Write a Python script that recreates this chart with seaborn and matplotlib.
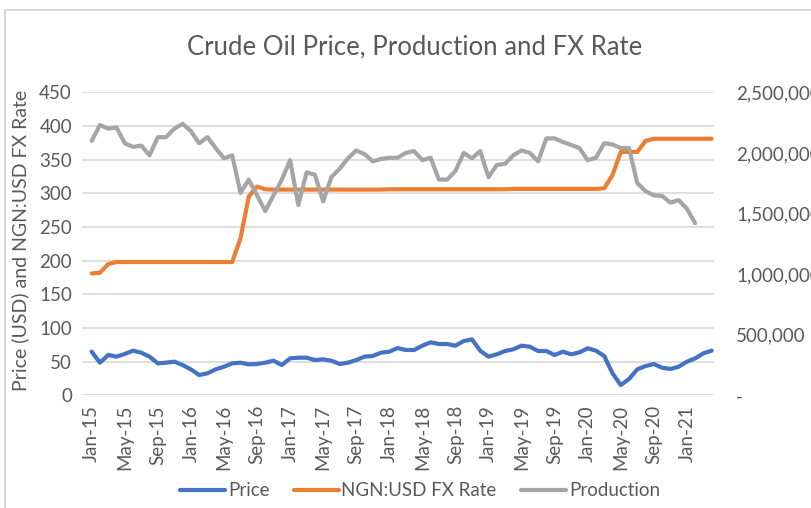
import pandas as pd
import seaborn as sns
import matplotlib.pyplot as plt
from matplotlib.patches import Rectangle
from matplotlib.ticker import FuncFormatter

# Monthly series, Jan-15 .. Apr-21
price = [64.8, 48.5, 59.9, 57.4, 61.4, 66.3, 63.3, 57.4, 47.5, 48.5,
         50.0, 45.0, 38.6, 30.1, 32.7, 38.6, 42.5, 47.5, 48.5, 46.0,
         46.5, 48.5, 51.4, 45.0, 54.9, 55.9, 55.9, 52.4, 53.4, 51.4,
         46.5, 48.5, 52.4, 57.4, 58.4, 63.3, 64.8, 70.2, 67.3, 67.3,
         73.7, 78.7, 76.2, 76.2, 73.7, 80.6, 83.1, 66.3, 57.4, 60.9,
         65.8, 68.3, 73.7, 72.2, 65.8, 65.8, 59.9, 64.8, 60.9, 63.8,
         69.8, 66.3, 58.4, 32.7, 15.3, 24.2, 38.6, 43.5, 46.5, 41.0,
         39.1, 42.5, 50.0, 54.9, 62.4, 66.3]

fx_rate = [181, 182, 195, 198, 198, 198, 198, 198, 198, 198,
           198, 198, 198, 198, 198, 198, 198, 198, 233, 295,
           310, 306, 305.5, 305.5, 305.5, 305.5, 305.5, 305.5, 305.5, 305.5,
           305.5, 305.5, 305.5, 305.5, 305.5, 305.5, 306, 306, 306, 306,
           306, 306, 306, 306, 306, 306, 306, 306, 306, 306,
           306, 306.5, 306.5, 306.5, 306.5, 306.5, 306.5, 306.5, 306.5, 306.5,
           306.5, 306.5, 307.5, 327, 361.5, 361.5, 361.5, 378, 381, 381,
           381, 381, 381, 381, 381, 381]

production = [2100000, 2230000, 2200000, 2210000, 2080000, 2050000, 2060000, 1980000, 2130000, 2130000,
              2200000, 2240000, 2180000, 2080000, 2130000, 2040000, 1955000, 1980000, 1670000, 1780000,
              1650000, 1520000, 1650000, 1780000, 1940000, 1570000, 1840000, 1820000, 1600000, 1800000,
              1870000, 1955000, 2020000, 1990000, 1930000, 1950000, 1960000, 1960000, 2000000, 2015000,
              1940000, 1960000, 1780000, 1780000, 1850000, 2000000, 1955000, 2015000, 1800000, 1900000,
              1910000, 1980000, 2020000, 2000000, 1930000, 2120000, 2120000, 2090000, 2065000, 2040000,
              1940000, 1960000, 2080000, 2070000, 2040000, 2040000, 1750000, 1685000, 1650000, 1645000,
              1590000, 1610000, 1540000, 1420000, None, None]

tick_labels = ['Jan-15', 'May-15', 'Sep-15', 'Jan-16', 'May-16', 'Sep-16', 'Jan-17',
               'May-17', 'Sep-17', 'Jan-18', 'May-18', 'Sep-18', 'Jan-19', 'May-19',
               'Sep-19', 'Jan-20', 'May-20', 'Sep-20', 'Jan-21']

df = pd.DataFrame({'Price': price, 'NGN:USD FX Rate': fx_rate,
                   'Production': pd.to_numeric(pd.Series(production), errors='coerce')})
df['month'] = range(len(df))

sns.set_theme(style='white')
plt.rcParams['font.family'] = ['Lato', 'DejaVu Sans']

grey_text = '#595959'
blue, orange, grey = '#4472C4', '#ED7D31', '#A5A5A5'

fig = plt.figure(figsize=(8.11, 5.08), dpi=100)
ax = fig.add_axes([0.1007, 0.2218, 0.7797, 0.5965])
ax2 = ax.twinx()

sns.lineplot(data=df, x='month', y='Price', ax=ax, color=blue, lw=3, label='Price', legend=False)
sns.lineplot(data=df, x='month', y='NGN:USD FX Rate', ax=ax, color=orange, lw=3,
             label='NGN:USD FX Rate', legend=False)
sns.lineplot(data=df, x='month', y='Production', ax=ax2, color=grey, lw=3,
             label='Production', legend=False)

ax.set_xlim(-1.21, 75.28)
ax.set_ylim(0, 450)
ax.set_yticks(range(0, 451, 50))
ax2.set_ylim(0, 2500000)
ax2.set_yticks(range(0, 2500001, 500000))
ax2.yaxis.set_major_formatter(FuncFormatter(lambda v, _: '-' if v == 0 else f'{v:,.0f}'))

ax.set_xticks(range(0, len(df), 4))
ax.set_xticklabels(tick_labels, rotation=90)

ax.yaxis.grid(True, color='#D9D9D9', lw=1.2)
ax.xaxis.grid(False)
ax2.grid(False)
ax.set_xlabel('')
ax.set_ylabel('')
ax2.set_ylabel('')

for a in (ax, ax2):
    for s in a.spines.values():
        s.set_visible(False)
ax.tick_params(axis='both', labelsize=13.5, colors=grey_text, length=0)
ax.tick_params(axis='y', pad=7)
ax.tick_params(axis='x', pad=7)
ax2.tick_params(axis='y', labelsize=13.5, colors=grey_text, length=0, pad=16)

fig.text(415 / 811, 1 - 47 / 508, 'Crude Oil Price, Production and FX Rate',
         ha='center', va='center', fontsize=18.5, color=grey_text)
fig.text(20 / 811, 1 - 240 / 508, 'Price (USD) and NGN:USD FX Rate',
         ha='center', va='center', rotation=90, fontsize=14, color=grey_text)

handles = ax.get_lines()[:2] + ax2.get_lines()[:1]
fig.legend(handles, ['Price', 'NGN:USD FX Rate', 'Production'], loc='center',
           bbox_to_anchor=(420 / 811, 1 - 491 / 508), ncol=3, frameon=False,
           fontsize=13.5, labelcolor=grey_text, handlelength=2.4,
           handletextpad=0.15, columnspacing=1.3)

# chart area border
fig.patches.append(Rectangle((5 / 811, -0.01), 1.0, 1 - 10 / 508 + 0.01, transform=fig.transFigure,
                             fill=False, ec='#D9D9D9', lw=1.5))

fig.savefig('out.png', dpi=100)
